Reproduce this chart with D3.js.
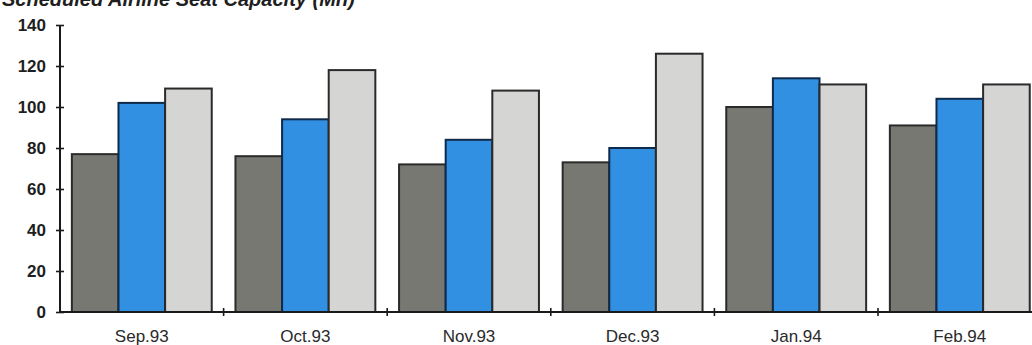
<!DOCTYPE html>
<html>
<head>
<meta charset="utf-8">
<script src="https://cdn.jsdelivr.net/npm/d3@7"></script>
<style>
  html, body { margin: 0; padding: 0; background: #ffffff; }
  svg { display: block; }
</style>
</head>
<body>
<svg id="chart" width="1032" height="345"></svg>
<script>
// Monthly categories and the three series shown per month
const months = ["Sep.93", "Oct.93", "Nov.93", "Dec.93", "Jan.94", "Feb.94"];
const seriesA = [77, 76, 72, 73, 100, 91];
const seriesB = [102, 94, 84, 80, 114, 104];
const seriesC = [109, 118, 108, 126, 111, 111];
const yTicks = [0, 20, 40, 60, 80, 100, 120, 140];
const seriesNames = ["A", "B", "C"];
const seriesColors = ["#787872", "#3190e2", "#d5d5d3"];

const svg = d3.select("#chart");

const x0 = 60, yZero = 312, yTop = 25;
const step = 163.6;

const x = d3.scaleBand()
  .domain(months)
  .range([x0, x0 + step * months.length])
  .paddingInner(0.145)
  .paddingOuter(0.0725);

const xs = d3.scaleBand()
  .domain(seriesNames)
  .range([0, x.bandwidth()]);

const y = d3.scaleLinear().domain([0, 140]).range([yZero, yTop]);

const rows = months.map((m, i) => ({
  month: m,
  values: [seriesA[i], seriesB[i], seriesC[i]]
}));

// Title (runs off the top edge)
svg.append("text")
  .attr("x", 2)
  .attr("y", 6)
  .attr("font-family", "Liberation Sans, Arial, sans-serif")
  .attr("font-size", 20)
  .attr("font-weight", "bold")
  .attr("font-style", "italic")
  .attr("fill", "#1e1e1e")
  .text("Scheduled Airline Seat Capacity (Mn)");

// Bars
const groups = svg.append("g").selectAll("g")
  .data(rows)
  .join("g")
  .attr("transform", d => `translate(${x(d.month)},0)`);

groups.selectAll("rect")
  .data(d => d.values.map((v, k) => ({ key: seriesNames[k], value: v, k })))
  .join("rect")
  .attr("x", d => xs(d.key))
  .attr("y", d => y(d.value))
  .attr("width", xs.bandwidth())
  .attr("height", d => y(0) - y(d.value))
  .attr("fill", d => seriesColors[d.k])
  .attr("stroke", d => d.k === 1 ? "#0f2a4a" : "#2a2a2a")
  .attr("stroke-width", 2);

// Y axis
const yAxis = d3.axisLeft(y).tickValues(yTicks).tickSize(4).tickPadding(10);
const gy = svg.append("g")
  .attr("transform", `translate(${x0},0)`)
  .call(yAxis);
gy.select(".domain").remove();
gy.selectAll(".tick line")
  .attr("x1", -4).attr("x2", 4)
  .attr("stroke", "#1a1a1a").attr("stroke-width", 1.6);
gy.selectAll(".tick text")
  .attr("font-family", "Liberation Sans, Arial, sans-serif")
  .attr("font-size", 17)
  .attr("font-weight", "bold")
  .attr("fill", "#1e1e1e");
gy.append("line")
  .attr("x1", 0).attr("x2", 0)
  .attr("y1", y(0)).attr("y2", y(140))
  .attr("stroke", "#1a1a1a").attr("stroke-width", 2);

// X axis baseline with ticks between months
const gx = svg.append("g");
gx.append("line")
  .attr("x1", x0).attr("x2", 1032)
  .attr("y1", yZero).attr("y2", yZero)
  .attr("stroke", "#1a1a1a").attr("stroke-width", 2);

const boundaries = months.slice(1).map(m => x(m) - x.step() * x.paddingInner() / 2);
gx.selectAll("line.sep")
  .data(boundaries)
  .join("line")
  .attr("class", "sep")
  .attr("x1", d => d).attr("x2", d => d)
  .attr("y1", yZero - 4).attr("y2", yZero + 4)
  .attr("stroke", "#1a1a1a").attr("stroke-width", 1.6);

gx.selectAll("text")
  .data(months)
  .join("text")
  .attr("x", d => x(d) + x.bandwidth() / 2)
  .attr("y", 342)
  .attr("text-anchor", "middle")
  .attr("font-family", "Liberation Sans, Arial, sans-serif")
  .attr("font-size", 17)
  .attr("fill", "#2a2a2a")
  .text(d => d);
</script>
</body>
</html>
